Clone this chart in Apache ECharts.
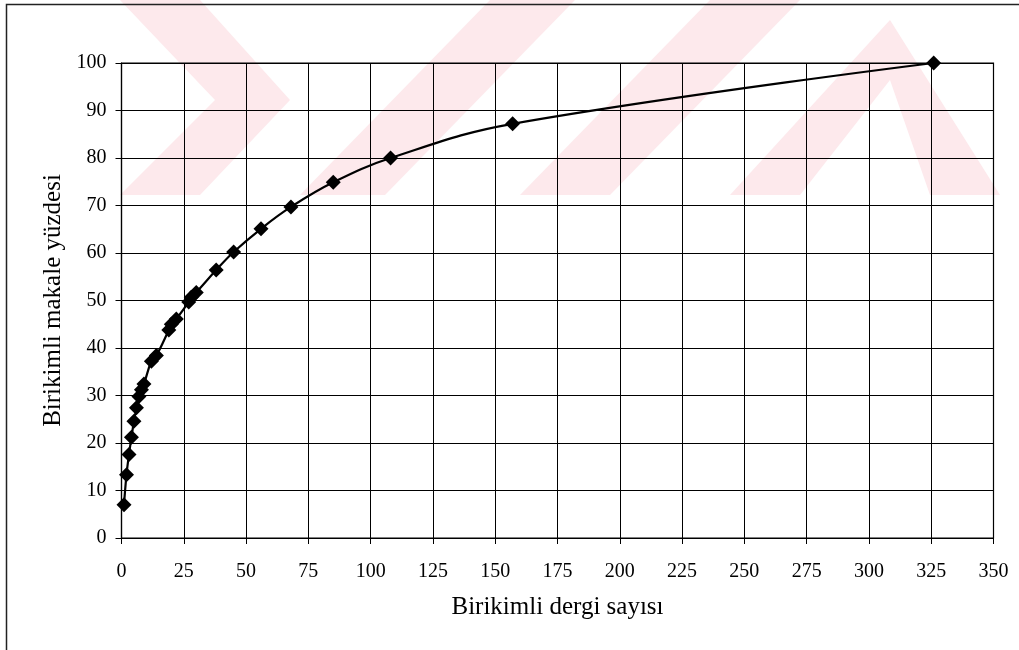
<!DOCTYPE html>
<html>
<head>
<meta charset="utf-8">
<script src="https://cdn.jsdelivr.net/npm/echarts@6/dist/echarts.min.js"></script>
<style>
html,body{margin:0;padding:0;background:#fff;}
#chart{width:1019px;height:650px;}
</style>
</head>
<body>
<div id="chart"></div>
<script>
// Cumulative number of journals (x) vs cumulative article percentage (y)
const journalCounts = [1, 2, 3, 4, 5, 6, 7, 8, 9, 12, 14, 19, 20, 22, 27, 28, 30, 38, 45, 56, 68, 85, 108, 157, 326];
const articlePercents = [7.0, 13.3, 17.6, 21.2, 24.6, 27.4, 29.8, 31.2, 32.4, 37.2, 38.4, 43.8, 45.0, 46.1, 49.7, 50.7, 51.7, 56.4, 60.2, 65.1, 69.7, 74.9, 80.0, 87.2, 100];
const xTitle = 'Birikimli dergi sayısı';
const yTitle = 'Birikimli makale yüzdesi';

const points = journalCounts.map((x, i) => [x, articlePercents[i]]);
const serif = '"Liberation Serif", "DejaVu Serif", serif';
const pink = '#fde9ec';

const chart = echarts.init(document.getElementById('chart'));
chart.setOption({
  backgroundColor: '#fff',
  animation: false,
  graphic: [
    // pale watermark shapes behind the chart
    { type: 'polygon', z: -10, silent: true, shape: { points: [[120,0],[200,0],[290,100],[200,195],[120,195],[215,100]] }, style: { fill: pink } },
    { type: 'polygon', z: -10, silent: true, shape: { points: [[300,195],[385,195],[575,0],[490,0]] }, style: { fill: pink } },
    { type: 'polygon', z: -10, silent: true, shape: { points: [[520,195],[610,195],[800,0],[710,0]] }, style: { fill: pink } },
    { type: 'polygon', z: -10, silent: true, shape: { points: [[730,195],[800,195],[890,80],[930,195],[1000,195],[890,20]] }, style: { fill: pink } },
    // outer frame (cropped on right and bottom)
    { type: 'rect', z: 10, silent: true, shape: { x: 6.5, y: 4.5, width: 1200, height: 800 }, style: { fill: null, stroke: '#222', lineWidth: 1.5 } }
  ],
  grid: {
    left: 121.5, top: 63, right: 25.5, bottom: 112,
    show: true, borderColor: '#000', borderWidth: 1.2, backgroundColor: 'transparent'
  },
  xAxis: {
    type: 'value', min: 0, max: 350, interval: 25,
    name: xTitle, nameLocation: 'middle', nameGap: 57,
    nameTextStyle: { fontFamily: serif, fontSize: 25, color: '#000' },
    axisLine: { show: true, onZero: false, lineStyle: { color: '#000', width: 1.2 } },
    axisTick: { show: true, inside: false, length: 6, lineStyle: { color: '#000' } },
    axisLabel: { fontFamily: serif, fontSize: 20, color: '#000', margin: 24 },
    splitLine: { show: true, lineStyle: { color: '#000', width: 1 } }
  },
  yAxis: {
    type: 'value', min: 0, max: 100, interval: 10,
    name: yTitle, nameLocation: 'middle', nameGap: 55, nameRotate: 90,
    nameTextStyle: { fontFamily: serif, fontSize: 25, color: '#000' },
    axisLine: { show: true, lineStyle: { color: '#000', width: 1.2 } },
    axisTick: { show: true, inside: false, length: 6, lineStyle: { color: '#000' } },
    axisLabel: { fontFamily: serif, fontSize: 20, color: '#000', margin: 15 },
    splitLine: { show: true, lineStyle: { color: '#000', width: 1 } }
  },
  series: [{
    type: 'line',
    data: points,
    smooth: 0.4,
    symbol: 'diamond',
    symbolSize: 15,
    itemStyle: { color: '#000' },
    lineStyle: { color: '#000', width: 2.2 },
    clip: false
  }]
});
</script>
</body>
</html>
